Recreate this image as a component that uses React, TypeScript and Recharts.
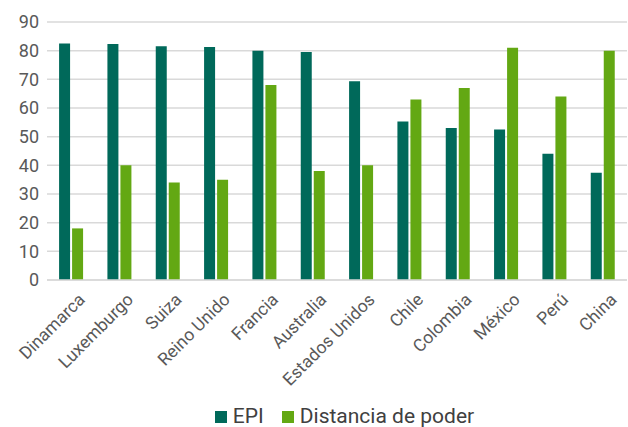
import { BarChart, Bar, XAxis, YAxis, CartesianGrid, Legend } from "recharts";

const countries = [
  "Dinamarca",
  "Luxemburgo",
  "Suiza",
  "Reino Unido",
  "Francia",
  "Australia",
  "Estados Unidos",
  "Chile",
  "Colombia",
  "México",
  "Perú",
  "China",
];
const epi = [82.5, 82.3, 81.5, 81.3, 80.0, 79.5, 69.3, 55.3, 53.0, 52.5, 44.0, 37.4];
const distancia = [18, 40, 34, 35, 68, 38, 40, 63, 67, 81, 64, 80];
const yTicks = [0, 10, 20, 30, 40, 50, 60, 70, 80, 90];
const seriesOrder = ["epi", "distancia"];

const data = countries.map((name, i) => ({
  name,
  epi: epi[i],
  distancia: distancia[i],
}));

const FONT = "'Liberation Sans Narrow', 'Arial Narrow', Roboto, sans-serif";

export default function App() {
  return (
    <div style={{ position: "absolute", left: 0, top: 0, width: 628, height: 427, background: "#fff" }}>
      <BarChart
        width={628}
        height={427}
        data={data}
        margin={{ top: 22, right: 1, left: 0, bottom: 0 }}
        barCategoryGap="25%"
        barGap={2}
      >
        <CartesianGrid vertical={false} stroke="#d9d9d9" strokeWidth={1.5} />
        <XAxis
          dataKey="name"
          interval={0}
          height={125}
          tickLine={false}
          axisLine={{ stroke: "#d9d9d9", strokeWidth: 1.5 }}
          angle={-45}
          textAnchor="end"
          dx={6}
          dy={4}
          tick={{ fill: "#595959", fontSize: 17.5, fontFamily: FONT }}
        />
        <YAxis
          width={47}
          domain={[0, 90]}
          ticks={yTicks}
          tickLine={false}
          axisLine={false}
          tick={{ fill: "#595959", fontSize: 18, fontFamily: FONT }}
        />
        <Legend
          verticalAlign="bottom"
          iconType="square"
          iconSize={12}
          itemSorter={(item) => seriesOrder.indexOf(String(item.dataKey))}
          wrapperStyle={{
            fontFamily: FONT,
            fontSize: 21,
            color: "#404040",
            lineHeight: "22px",
            paddingLeft: 80,
            boxSizing: "border-box",
          }}
          formatter={(value) => <span style={{ color: "#404040", marginLeft: 2, marginRight: 8 }}>{value}</span>}
        />
        <Bar dataKey="epi" name="EPI" fill="#00695a" isAnimationActive={false} />
        <Bar dataKey="distancia" name="Distancia de poder" fill="#63a813" isAnimationActive={false} />
      </BarChart>
    </div>
  );
}
